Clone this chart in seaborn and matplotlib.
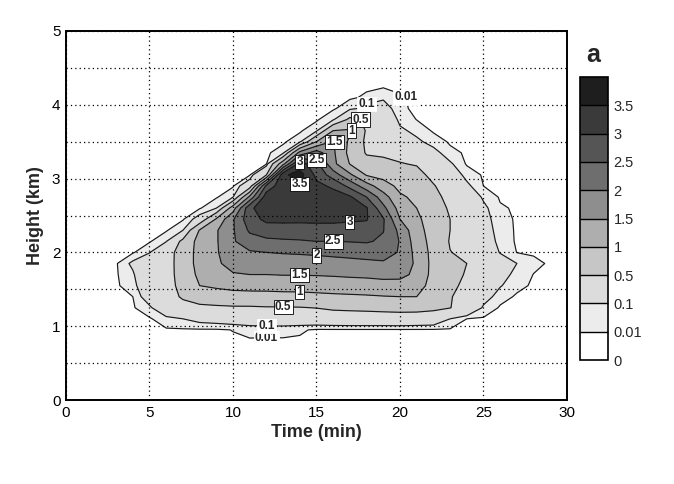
import numpy as np
import matplotlib
matplotlib.use("Agg")
import matplotlib.pyplot as plt
import seaborn as sns

# ---------------- data ----------------
times = [2, 3, 4, 5, 6, 7, 8, 9, 10, 11, 12, 13, 14, 15, 16, 17, 18, 19, 20,
         21, 22, 23, 24, 25, 26, 27, 28, 29]
heights = [0.80, 0.95, 1.10, 1.25, 1.40, 1.55, 1.70, 1.85, 2.00, 2.15, 2.30,
           2.45, 2.60, 2.75, 2.90, 3.05, 3.20, 3.35, 3.50, 3.65, 3.80, 3.95,
           4.10, 4.25, 4.40]

# vertical profiles (one per time, bottom -> top)
p02 = [0] * 25
p03 = [0] * 25
p04 = [0, 0, 0, 0, 0.01, 0.045, 0.08, 0.13, 0, 0, 0, 0, 0, 0, 0, 0, 0, 0, 0, 0, 0, 0, 0, 0, 0]
p05 = [0, 0, 0, 0.074, 0.19, 0.28, 0.29, 0.3, 0.09, 0, 0, 0, 0, 0, 0, 0, 0, 0, 0, 0, 0, 0, 0, 0, 0]
p06 = [0, 0, 0.061, 0.25, 0.33, 0.35, 0.36, 0.36, 0.35, 0.09, 0, 0, 0, 0, 0, 0, 0, 0, 0, 0, 0, 0, 0, 0, 0]
p07 = [0, 0, 0.1, 0.36, 0.55, 0.62, 0.65, 0.66, 0.66, 0.6, 0.1, 0, 0, 0, 0, 0, 0, 0, 0, 0, 0, 0, 0, 0, 0]
p08 = [0, 0, 0.15, 0.41, 0.7, 1.0, 1.12, 1.2, 1.2, 1.18, 1.03, 0.17, 0, 0, 0, 0, 0, 0, 0, 0, 0, 0, 0, 0, 0]
p09 = [0, 0, 0.17, 0.43, 0.76, 1.08, 1.32, 1.42, 1.44, 1.45, 1.45, 1.05, 0.1, 0, 0, 0, 0, 0, 0, 0, 0, 0, 0, 0, 0]
p10 = [0, 0.012, 0.19, 0.45, 0.8, 1.15, 1.46, 1.68, 1.88, 1.95, 1.95, 1.95, 1.25, 0.09, 0, 0, 0, 0, 0, 0, 0, 0, 0, 0, 0]
p11 = [0, 0.038, 0.2, 0.45, 0.82, 1.17, 1.5, 1.73, 1.95, 2.27, 2.58, 2.82, 2.9, 1.62, 0.25, 0, 0, 0, 0, 0, 0, 0, 0, 0, 0]
p12 = [0, 0.035, 0.22, 0.47, 0.83, 1.17, 1.5, 1.75, 2.0, 2.38, 2.79, 3.1, 3.3, 3.3, 2.62, 0.5, 0, 0, 0, 0, 0, 0, 0, 0, 0]
p13 = [0, 0.035, 0.22, 0.47, 0.84, 1.2, 1.52, 1.77, 2.03, 2.42, 2.83, 3.09, 3.25, 3.31, 3.38, 3.4, 1.33, 0.04, 0, 0, 0, 0, 0, 0, 0]
p14 = [0, 0.02, 0.22, 0.48, 0.85, 1.2, 1.52, 1.78, 2.05, 2.45, 2.84, 3.08, 3.21, 3.34, 3.46, 3.7, 3.27, 1.67, 0.05, 0, 0, 0, 0, 0, 0]
p15 = [0, 0, 0.23, 0.51, 0.88, 1.22, 1.53, 1.79, 2.08, 2.5, 2.84, 3.09, 3.25, 3.3, 3.12, 2.87, 2.63, 2.25, 1.0, 0.06, 0, 0, 0, 0, 0]
p16 = [0, 0, 0.25, 0.57, 0.91, 1.24, 1.55, 1.82, 2.12, 2.5, 2.84, 3.09, 3.25, 3.2, 2.92, 2.25, 1.63, 1.58, 1.55, 1.0, 0.07, 0, 0, 0, 0]
p17 = [0, 0, 0.26, 0.59, 0.93, 1.26, 1.58, 1.87, 2.14, 2.52, 2.83, 3.06, 3.2, 3.07, 2.35, 1.59, 0.98, 0.85, 0.9, 1.05, 0.6, 0.055, 0, 0, 0]
p18 = [0, 0, 0.26, 0.61, 0.95, 1.28, 1.6, 1.9, 2.18, 2.55, 2.81, 3.03, 3.04, 2.5, 1.72, 0.96, 0.66, 0.46, 0.41, 0.45, 0.44, 0.15, 0.02, 0, 0]
p19 = [0, 0, 0.26, 0.64, 0.98, 1.32, 1.64, 1.94, 2.19, 2.42, 2.52, 2.55, 2.14, 1.72, 1.21, 0.84, 0.59, 0.44, 0.35, 0.33, 0.3, 0.18, 0.075, 0, 0]
p20 = [0, 0, 0.27, 0.66, 1.0, 1.33, 1.62, 1.87, 1.96, 1.97, 1.87, 1.5, 1.29, 1.07, 0.88, 0.7, 0.52, 0.39, 0.26, 0.13, 0.06, 0.02, 0.015, 0, 0]
p21 = [0, 0, 0.25, 0.66, 1.0, 1.2, 1.4, 1.4, 1.33, 1.24, 1.15, 1.08, 1.0, 0.9, 0.8, 0.63, 0.47, 0.3, 0.13, 0.06, 0.008, 0, 0, 0, 0]
p22 = [0, 0, 0.23, 0.6, 0.8, 0.82, 0.83, 0.85, 0.85, 0.83, 0.82, 0.8, 0.73, 0.63, 0.53, 0.39, 0.25, 0.15, 0.05, 0, 0, 0, 0, 0, 0]
p23 = [0, 0, 0.1, 0.51, 0.51, 0.53, 0.54, 0.56, 0.51, 0.47, 0.5, 0.5, 0.44, 0.37, 0.29, 0.2, 0.12, 0.03, 0, 0, 0, 0, 0, 0, 0]
p24 = [0, 0, 0.01, 0.33, 0.44, 0.47, 0.49, 0.5, 0.42, 0.4, 0.38, 0.34, 0.3, 0.22, 0.13, 0.06, 0, 0, 0, 0, 0, 0, 0, 0, 0]
p25 = [0, 0, 0, 0.075, 0.17, 0.22, 0.26, 0.3, 0.25, 0.2, 0.17, 0.15, 0.13, 0.08, 0.01, 0, 0, 0, 0, 0, 0, 0, 0, 0, 0]
p26 = [0, 0, 0, 0, 0.04, 0.11, 0.16, 0.2, 0.09, 0.06, 0.05, 0.04, 0.02, 0, 0, 0, 0, 0, 0, 0, 0, 0, 0, 0, 0]
p27 = [0, 0, 0, 0, 0, 0.03, 0.06, 0.1, 0.008, 0, 0, 0, 0, 0, 0, 0, 0, 0, 0, 0, 0, 0, 0, 0, 0]
p28 = [0, 0, 0, 0, 0, 0, 0.008, 0.03, 0, 0, 0, 0, 0, 0, 0, 0, 0, 0, 0, 0, 0, 0, 0, 0, 0]
p29 = [0] * 25

levels = [0, 0.01, 0.1, 0.5, 1, 1.5, 2, 2.5, 3, 3.5, 4]
cbar_labels = ["0", "0.01", "0.1", "0.5", "1", "1.5", "2", "2.5", "3", "3.5"]
x_ticks = [0, 5, 10, 15, 20, 25, 30]
y_ticks = [0, 1, 2, 3, 4, 5]

# ---------------- styling / layout ----------------
band_colors = ['#ffffff', '#ececec', '#dcdcdc', '#c6c6c6', '#aeaeae',
               '#8e8e8e', '#6e6e6e', '#555555', '#3a3a3a', '#1e1e1e']
# approximate spots near which each level's label is placed on its line
label_spots = [(0.01, (20.6, 4.08)), (0.01, (11.9, 0.92)),
               (0.1, (18.4, 4.0)), (0.1, (11.9, 1.04)),
               (0.5, (17.7, 3.85)), (0.5, (12.9, 1.27)),
               (1, (17.1, 3.65)), (1, (13.9, 1.46)),
               (1.5, (16.0, 3.5)), (1.5, (13.9, 1.69)),
               (2, (15.0, 1.99)),
               (2.5, (14.9, 3.35)), (2.5, (15.9, 2.15)),
               (3, (14.0, 3.22)), (3, (16.8, 2.4)),
               (3.5, (13.9, 2.95))]

sns.set_theme(style="white")
plt.rcParams['font.family'] = ['Liberation Sans', 'DejaVu Sans']

profiles = [p02, p03, p04, p05, p06, p07, p08, p09, p10, p11, p12, p13, p14,
            p15, p16, p17, p18, p19, p20, p21, p22, p23, p24, p25, p26, p27,
            p28, p29]
Z = np.array(profiles, dtype=float).T
T, H = np.meshgrid(times, heights)

fig = plt.figure(figsize=(6.74, 4.84), dpi=100)
ax = fig.add_axes([66 / 674, 1 - 400 / 484, (567 - 66) / 674, (400 - 31) / 484])

cf = ax.contourf(T, H, Z, levels=levels, colors=band_colors)
line_levels = levels[1:-1]
cs = ax.contour(T, H, Z, levels=line_levels, colors='k', linewidths=0.85)

ax.set_xlim(0, 30)
ax.set_ylim(0, 5)

# labels sit on the nearest vertex of the requested level's contour line
xr, yr = 30.0, 5.0
for lev, (px, py) in label_spots:
    li = line_levels.index(lev)
    best = None
    for seg in cs.allsegs[li]:
        if len(seg) == 0:
            continue
        d = ((seg[:, 0] - px) / xr) ** 2 + ((seg[:, 1] - py) / yr) ** 2
        k = int(np.argmin(d))
        if best is None or d[k] < best[0]:
            best = (d[k], seg[k, 0], seg[k, 1])
    if best is None:
        continue
    edge = 'white' if lev in (0.01, 0.1) else 'black'
    ax.text(best[1], best[2], f"{lev:g}", fontsize=8.5, fontweight='bold',
            ha='center', va='center', zorder=5,
            bbox=dict(boxstyle='square,pad=0.1', facecolor='white',
                      edgecolor=edge, linewidth=0.6))

ax.set_xticks(x_ticks)
ax.set_yticks(y_ticks)
ax.set_yticks(np.arange(0.5, 5, 1.0), minor=True)
ax.set_axisbelow(False)
ax.grid(True, which='both', axis='y', linestyle=(0, (1, 2.5)), color='black', linewidth=0.9)
ax.grid(True, which='major', axis='x', linestyle=(0, (1, 2.5)), color='black', linewidth=0.9)
ax.tick_params(which='both', length=0, labelsize=11, pad=4, colors='black')
for s in ax.spines.values():
    s.set_visible(True)
    s.set_linewidth(1.4)
    s.set_color('black')
ax.set_xlabel('Time (min)', fontsize=13, fontweight='bold', labelpad=3)
ax.set_ylabel('Height (km)', fontsize=13, fontweight='bold', labelpad=6)

cax = fig.add_axes([580 / 674, 1 - 360 / 484, 28 / 674, 283 / 484])
cb = fig.colorbar(cf, cax=cax, ticks=levels[:-1], drawedges=True)
cb.ax.set_yticklabels(cbar_labels)
cb.outline.set_linewidth(1.2)
cb.outline.set_edgecolor('black')
cb.dividers.set_color('black')
cb.dividers.set_linewidth(1.0)
cb.ax.tick_params(length=0, labelsize=10.5, pad=4)

fig.text(593 / 674, 1 - 55 / 484, 'a', fontsize=18, fontweight='bold',
         ha='center', va='center')

fig.savefig('out.png', dpi=100)
